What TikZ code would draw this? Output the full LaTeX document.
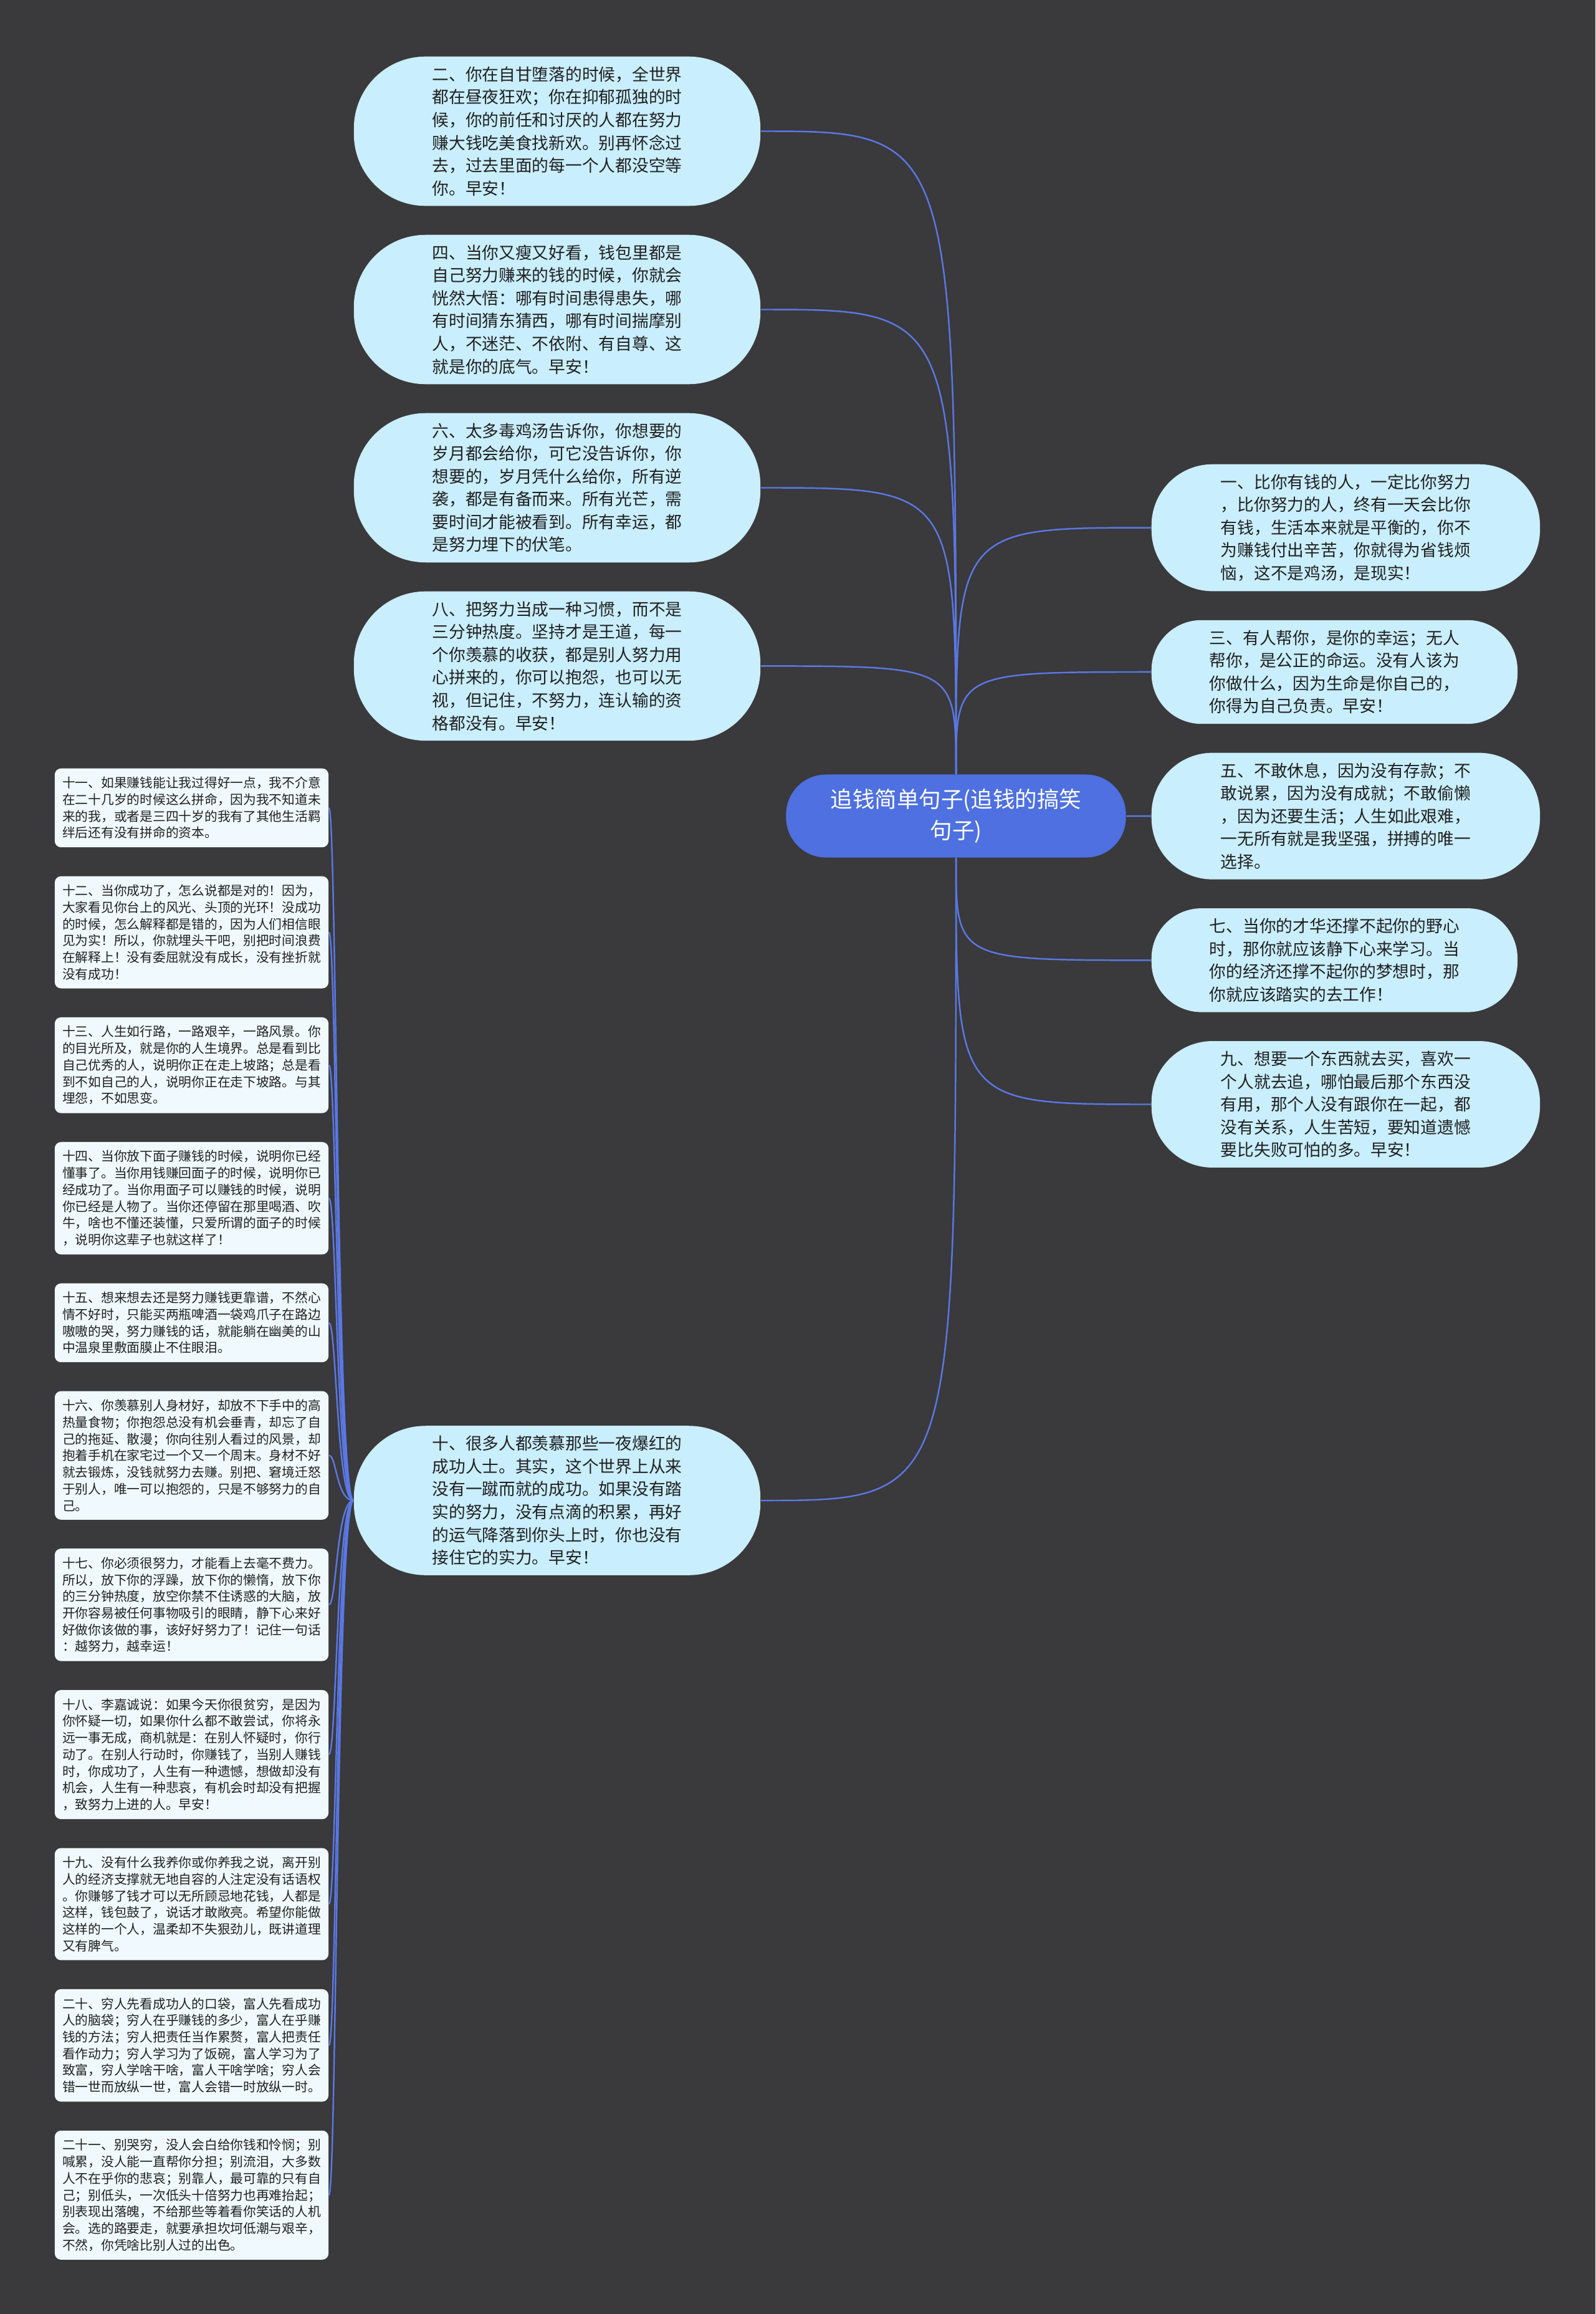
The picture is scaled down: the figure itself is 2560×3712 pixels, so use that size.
\documentclass[tikz,border=0pt]{standalone}
\usepackage{fontspec}
\setmainfont{Noto Sans CJK SC}
\usepackage{xcolor}
\usepackage{tikz}
\usetikzlibrary{positioning}
\definecolor{canvasgray}{HTML}{3A393B}
\definecolor{rootblue}{HTML}{4E70E0}
\definecolor{wireblue}{HTML}{5A78E4}
\definecolor{paleblue}{HTML}{C9EEFD}
\definecolor{leafwhite}{HTML}{F0FAFE}
\definecolor{inkdark}{HTML}{202020}

\tikzset{
  rootnode/.style={fill=rootblue, text=white, align=center, inner sep=0pt,
    minimum width=5.45cm, minimum height=1.33cm, rounded corners=0.64cm,
    font=\fontsize{10.1}{14.2}\selectfont},
  saying/.style={fill=paleblue, text=inkdark, align=left, inner xsep=0pt, inner ysep=4.55pt,
    font=\fontsize{7.6}{10.39}\selectfont},
  sayleft/.style={saying, minimum width=6.52cm, rounded corners=1.15cm},
  sayfive/.style={saying, minimum width=6.23cm, rounded corners=0.98cm},
  sayfour/.style={saying, minimum width=5.87cm, rounded corners=0.8cm},
  leaf/.style={fill=leafwhite, text=inkdark, align=left, inner xsep=0pt, inner ysep=3.83pt,
    minimum width=4.39cm, rounded corners=0.1cm, font=\fontsize{5.9}{7.6}\selectfont},
  wire/.style={draw=wireblue, line width=0.7pt}
}

\begin{document}
\begin{tikzpicture}[x=0.01cm, y=-0.01cm]
  \fill[canvasgray] (0,0) rectangle (2560,3712);

  \node[rootnode] (root) at (1534,1309) {追钱简单句子(追钱的搞笑\\句子)};

  \node[sayleft, anchor=north] (n2) at (894,90) {%
    二、你在自甘堕落的时候，全世界\\都在昼夜狂欢；你在抑郁孤独的时\\候，你的前任和讨厌的人都在努力\\%
    赚大钱吃美食找新欢。别再怀念过\\去，过去里面的每一个人都没空等\\你。早安！};
  \node[sayleft, below=0.45cm of n2] (n4) {%
    四、当你又瘦又好看，钱包里都是\\自己努力赚来的钱的时候，你就会\\恍然大悟：哪有时间患得患失，哪\\%
    有时间猜东猜西，哪有时间揣摩别\\人，不迷茫、不依附、有自尊、这\\就是你的底气。早安！};
  \node[sayleft, below=0.45cm of n4] (n6) {%
    六、太多毒鸡汤告诉你，你想要的\\岁月都会给你，可它没告诉你，你\\想要的，岁月凭什么给你，所有逆\\%
    袭，都是有备而来。所有光芒，需\\要时间才能被看到。所有幸运，都\\是努力埋下的伏笔。};
  \node[sayleft, below=0.45cm of n6] (n8) {%
    八、把努力当成一种习惯，而不是\\三分钟热度。坚持才是王道，每一\\个你羡慕的收获，都是别人努力用\\%
    心拼来的，你可以抱怨，也可以无\\视，但记住，不努力，连认输的资\\格都没有。早安！};
  \node[sayleft] (n10) at (894,2407) {%
    十、很多人都羡慕那些一夜爆红的\\成功人士。其实，这个世界上从来\\没有一蹴而就的成功。如果没有踏\\%
    实的努力，没有点滴的积累，再好\\的运气降落到你头上时，你也没有\\接住它的实力。早安！};

  \node[sayfive, anchor=north west] (n1) at (1847,744) {%
    一、比你有钱的人，一定比你努力\\，比你努力的人，终有一天会比你\\有钱，生活本来就是平衡的，你不\\%
    为赚钱付出辛苦，你就得为省钱烦\\恼，这不是鸡汤，是现实！};
  \node[sayfour, below=0.45cm of n1.south west, anchor=north west] (n3) {%
    三、有人帮你，是你的幸运；无人\\帮你，是公正的命运。没有人该为\\你做什么，因为生命是你自己的，\\%
    你得为自己负责。早安！};
  \node[sayfive, below=0.45cm of n3.south west, anchor=north west] (n5) {%
    五、不敢休息，因为没有存款；不\\敢说累，因为没有成就；不敢偷懒\\，因为还要生活；人生如此艰难，\\%
    一无所有就是我坚强，拼搏的唯一\\选择。};
  \node[sayfour, below=0.45cm of n5.south west, anchor=north west] (n7) {%
    七、当你的才华还撑不起你的野心\\时，那你就应该静下心来学习。当\\你的经济还撑不起你的梦想时，那\\%
    你就应该踏实的去工作！};
  \node[sayfive, below=0.45cm of n7.south west, anchor=north west] (n9) {%
    九、想要一个东西就去买，喜欢一\\个人就去追，哪怕最后那个东西没\\有用，那个人没有跟你在一起，都\\%
    没有关系，人生苦短，要知道遗憾\\要比失败可怕的多。早安！};

  \node[leaf, anchor=north] (n11) at (307.5,1232) {%
    十一、如果赚钱能让我过得好一点，我不介意\\在二十几岁的时候这么拼命，因为我不知道未\\%
    来的我，或者是三四十岁的我有了其他生活羁\\绊后还有没有拼命的资本。};
  \node[leaf, below=0.45cm of n11] (n12) {%
    十二、当你成功了，怎么说都是对的！因为，\\大家看见你台上的风光、头顶的光环！没成功\\%
    的时候，怎么解释都是错的，因为人们相信眼\\见为实！所以，你就埋头干吧，别把时间浪费\\%
    在解释上！没有委屈就没有成长，没有挫折就\\没有成功！};
  \node[leaf, below=0.45cm of n12] (n13) {%
    十三、人生如行路，一路艰辛，一路风景。你\\的目光所及，就是你的人生境界。总是看到比\\%
    自己优秀的人，说明你正在走上坡路；总是看\\到不如自己的人，说明你正在走下坡路。与其\\%
    埋怨，不如思变。};
  \node[leaf, below=0.45cm of n13] (n14) {%
    十四、当你放下面子赚钱的时候，说明你已经\\懂事了。当你用钱赚回面子的时候，说明你已\\%
    经成功了。当你用面子可以赚钱的时候，说明\\你已经是人物了。当你还停留在那里喝酒、吹\\%
    牛，啥也不懂还装懂，只爱所谓的面子的时候\\，说明你这辈子也就这样了！};
  \node[leaf, below=0.45cm of n14] (n15) {%
    十五、想来想去还是努力赚钱更靠谱，不然心\\情不好时，只能买两瓶啤酒一袋鸡爪子在路边\\%
    嗷嗷的哭，努力赚钱的话，就能躺在幽美的山\\中温泉里敷面膜止不住眼泪。};
  \node[leaf, below=0.45cm of n15] (n16) {%
    十六、你羡慕别人身材好，却放不下手中的高\\热量食物；你抱怨总没有机会垂青，却忘了自\\%
    己的拖延、散漫；你向往别人看过的风景，却\\抱着手机在家宅过一个又一个周末。身材不好\\%
    就去锻炼，没钱就努力去赚。别把、窘境迁怒\\于别人，唯一可以抱怨的，只是不够努力的自\\己。};
  \node[leaf, below=0.45cm of n16] (n17) {%
    十七、你必须很努力，才能看上去毫不费力。\\所以，放下你的浮躁，放下你的懒惰，放下你\\%
    的三分钟热度，放空你禁不住诱惑的大脑，放\\开你容易被任何事物吸引的眼睛，静下心来好\\%
    好做你该做的事，该好好努力了！记住一句话\\：越努力，越幸运！};
  \node[leaf, below=0.45cm of n17] (n18) {%
    十八、李嘉诚说：如果今天你很贫穷，是因为\\你怀疑一切，如果你什么都不敢尝试，你将永\\%
    远一事无成，商机就是：在别人怀疑时，你行\\动了。在别人行动时，你赚钱了，当别人赚钱\\%
    时，你成功了，人生有一种遗憾，想做却没有\\机会，人生有一种悲哀，有机会时却没有把握\\%
    ，致努力上进的人。早安！};
  \node[leaf, below=0.45cm of n18] (n19) {%
    十九、没有什么我养你或你养我之说，离开别\\人的经济支撑就无地自容的人注定没有话语权\\%
    。你赚够了钱才可以无所顾忌地花钱，人都是\\这样，钱包鼓了，说话才敢敞亮。希望你能做\\%
    这样的一个人，温柔却不失狠劲儿，既讲道理\\又有脾气。};
  \node[leaf, below=0.45cm of n19] (n20) {%
    二十、穷人先看成功人的口袋，富人先看成功\\人的脑袋；穷人在乎赚钱的多少，富人在乎赚\\%
    钱的方法；穷人把责任当作累赘，富人把责任\\看作动力；穷人学习为了饭碗，富人学习为了\\%
    致富，穷人学啥干啥，富人干啥学啥；穷人会\\错一世而放纵一世，富人会错一时放纵一时。};
  \node[leaf, below=0.45cm of n20] (n21) {%
    二十一、别哭穷，没人会白给你钱和怜悯；别\\喊累，没人能一直帮你分担；别流泪，大多数\\%
    人不在乎你的悲哀；别靠人，最可靠的只有自\\己；别低头，一次低头十倍努力也再难抬起；\\%
    别表现出落魄，不给那些等着看你笑话的人机\\会。选的路要走，就要承担坎坷低潮与艰辛，\\%
    不然，你凭啥比别人过的出色。};

  \coordinate (fork) at ([xshift=-0.27cm]n10.west);

  \foreach \k in {2,4,6,8}
    \draw[wire] (root.north) .. controls (root.north |- n\k.east) .. (n\k.east);
  \foreach \k in {1,3}
    \draw[wire] (root.north) .. controls (root.north |- n\k.west) .. (n\k.west);
  \foreach \k in {7,9}
    \draw[wire] (root.south) .. controls (root.south |- n\k.west) .. (n\k.west);
  \draw[wire] (root.east) -- (n5.west);
  \draw[wire] (root.south) .. controls (root.south |- n10.east) .. (n10.east);
  \foreach \k in {11,...,21}
    \draw[wire] (n10.west) .. controls (fork) and (fork |- n\k.east) .. (n\k.east);
\end{tikzpicture}
\end{document}
